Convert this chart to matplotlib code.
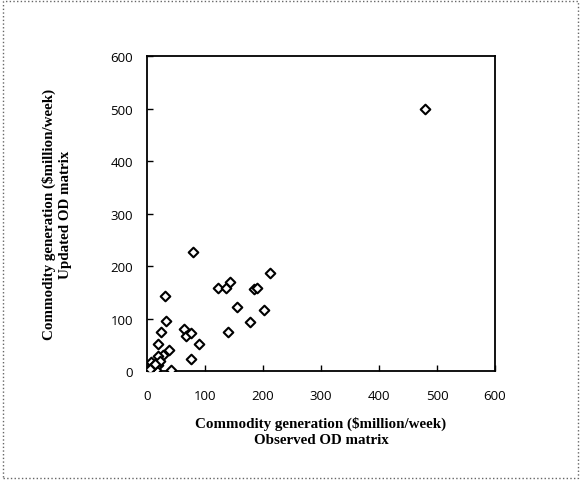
import matplotlib
matplotlib.use("Agg")
import matplotlib.pyplot as plt
from matplotlib.patches import Rectangle

# observed vs updated commodity generation ($million/week)
observed = [480, 80, 31, 123, 136, 143, 185, 190, 212, 155, 202, 178, 140,
            32, 24, 64, 67, 76, 19, 89, 38, 76, 27, 19, 7, 19, 2, 15, 42,
            10, 5, 22, 13]
updated = [500, 227, 144, 158, 158, 170, 157, 158, 186, 123, 117, 93, 75,
           95, 75, 81, 67, 72, 51, 51, 41, 23, 30, 29, 18, 12, 0, 1, 1,
           10, 4, 19, 14]

ticks = [0, 100, 200, 300, 400, 500, 600]

fig = plt.figure(figsize=(5.81, 4.81), dpi=100)
ax = fig.add_axes([0.253, 0.2266, 0.599, 0.654])

ax.scatter(observed, updated, marker='D', s=24, facecolors='white',
           edgecolors='black', linewidths=1.5, zorder=3)

ax.set_xlim(0, 600)
ax.set_ylim(0, 600)
ax.set_xticks(ticks)
ax.set_yticks(ticks)
ax.tick_params(direction='in', length=4, width=1, labelsize=9.5)
ax.tick_params(axis='x', pad=13)
ax.tick_params(axis='y', pad=10)
for lab in ax.get_xticklabels() + ax.get_yticklabels():
    lab.set_family('Open Sans')
for sp in ax.spines.values():
    sp.set_linewidth(1.3)

lab_font = dict(family='Liberation Serif', weight='bold', fontsize=10.8,
                linespacing=1.3)
ax.set_xlabel('Commodity generation (\\$million/week)\nObserved OD matrix',
              labelpad=10, **lab_font)
ax.set_ylabel('Commodity generation (\\$million/week)\nUpdated OD matrix',
              labelpad=28, **lab_font)

# dotted frame around the whole figure
fig.patches.append(Rectangle((0.005, 0.005), 0.99, 0.99, transform=fig.transFigure,
                             fill=False, edgecolor='#666666', linestyle=':',
                             linewidth=1))

fig.savefig('out.png', dpi=100)
